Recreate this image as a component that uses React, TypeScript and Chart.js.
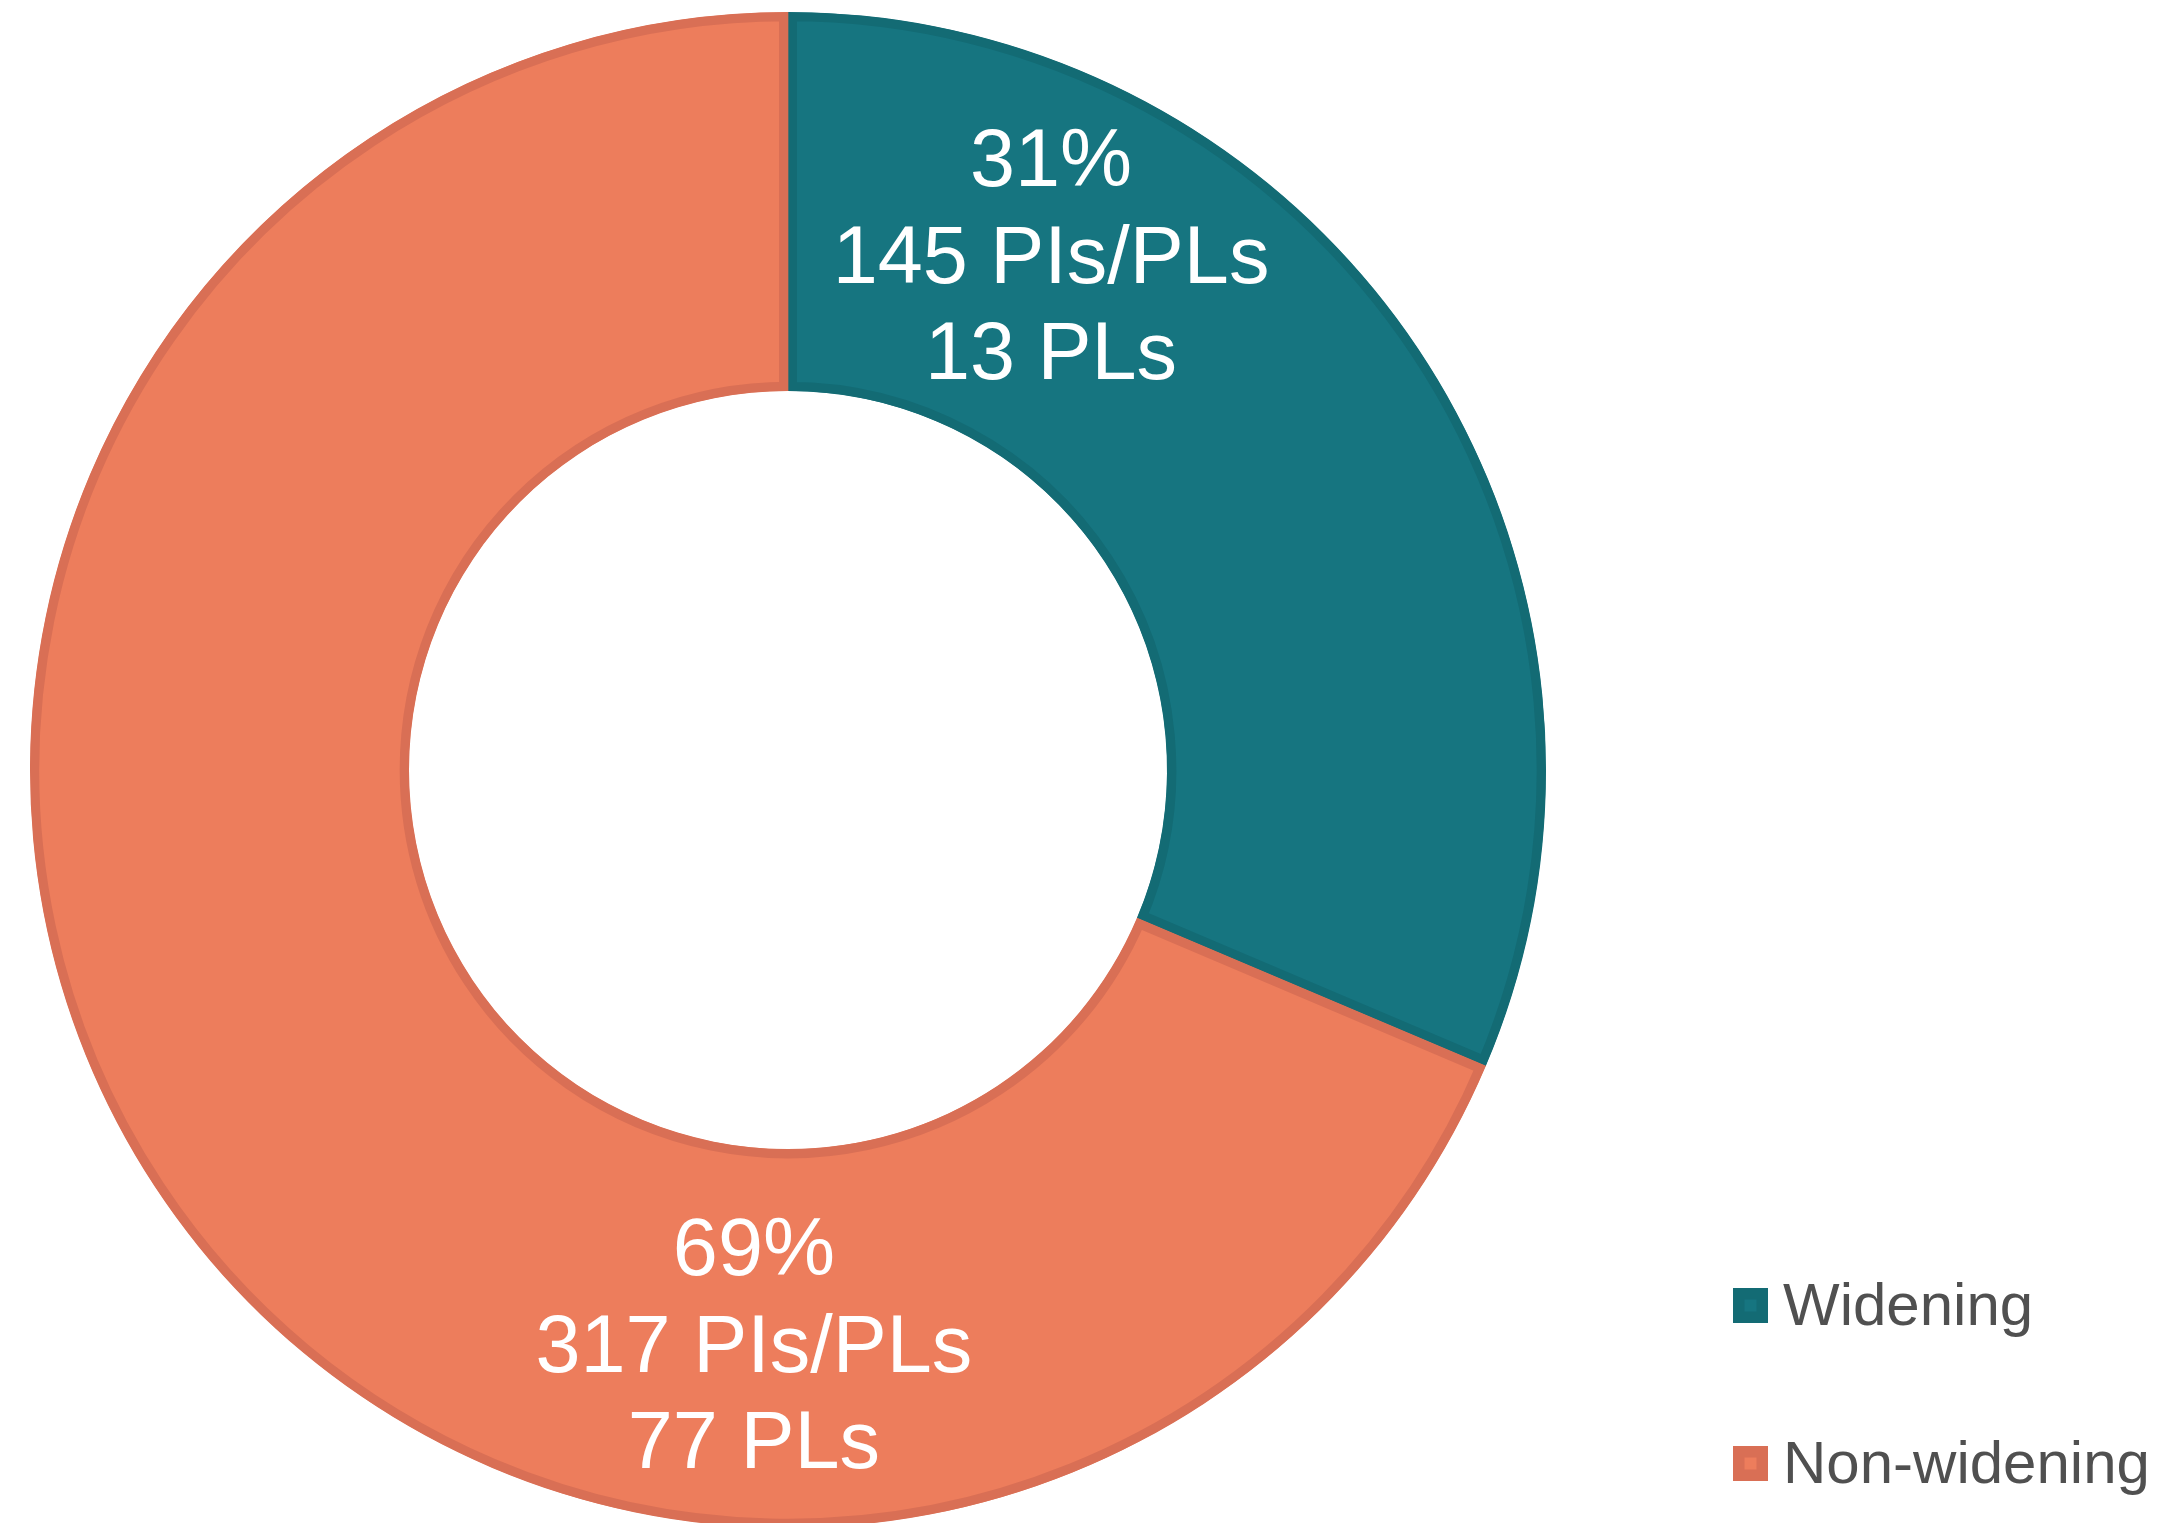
import React, { useEffect, useRef } from "react";
import { Chart, registerables } from "chart.js";

Chart.register(...registerables);

// ---- data ----
const categories = ["Widening", "Non-widening"];
const piPlCounts = [145, 317];
const plCounts = [13, 77];

// ---- styles ----
const fillColors = ["#167580", "#ED7D5C"];
const borderColors = ["#136B74", "#D96F55"];
// label anchor (middle line baseline) relative to centre, in units of outer radius
const labelAnchors: [number, number][] = [
  [0.347, -0.643],
  [-0.045, 0.794],
];

const W = 2171;
const H = 1535;
const CX = 788;
const CY = 770;
const R = 758;

const labelPlugin = {
  id: "sliceLabels",
  afterDatasetsDraw(chart: any) {
    const ctx = chart.ctx;
    const meta = chart.getDatasetMeta(0);
    const data: number[] = chart.data.datasets[0].data;
    const total = data.reduce((a, b) => a + b, 0);
    ctx.save();
    ctx.font = '81px "Liberation Sans", Arial, sans-serif';
    ctx.fillStyle = "#ffffff";
    ctx.textAlign = "center";
    ctx.textBaseline = "alphabetic";
    meta.data.forEach((arc: any, i: number) => {
      const { x, y, outerRadius } = arc.getProps(["x", "y", "outerRadius"], true);
      const pct = Math.round((data[i] / total) * 100);
      const lines = [`${pct}%`, `${data[i]} PIs/PLs`, `${plCounts[i]} PLs`];
      const cx = x + labelAnchors[i][0] * outerRadius;
      const cy = y + labelAnchors[i][1] * outerRadius;
      lines.forEach((l, k) => ctx.fillText(l, cx, cy + (k - 1) * 96.5));
    });
    ctx.restore();
  },
};

const legendPlugin = {
  id: "customLegend",
  afterDraw(chart: any) {
    const ctx = chart.ctx;
    const labels: string[] = chart.data.labels;
    const left = 1733;
    const top = 1288;
    const gap = 158;
    const box = 35;
    ctx.save();
    ctx.font = '60px "Liberation Sans", Arial, sans-serif';
    ctx.textAlign = "left";
    ctx.textBaseline = "alphabetic";
    labels.forEach((lab, i) => {
      const y = top + i * gap;
      ctx.fillStyle = borderColors[i];
      ctx.fillRect(left, y, box, box);
      ctx.fillStyle = fillColors[i];
      ctx.fillRect(left + 11.5, y + 11.5, 12, 12);
      ctx.fillStyle = "#505050";
      ctx.fillText(lab, left + 50, y + 37);
    });
    ctx.restore();
  },
};

export default function App() {
  const ref = useRef<HTMLCanvasElement>(null);
  useEffect(() => {
    if (!ref.current) return;
    const chart = new Chart(ref.current, {
      type: "doughnut",
      data: {
        labels: categories,
        datasets: [
          {
            data: piPlCounts,
            backgroundColor: fillColors,
            borderColor: borderColors,
            borderWidth: 9,
            borderAlign: "inner",
          } as any,
        ],
      },
      options: {
        responsive: false,
        devicePixelRatio: 1,
        animation: false,
        cutout: "50%",
        layout: {
          padding: { top: CY - R, bottom: H - (CY + R), left: CX - R, right: W - CX - R },
        },
        plugins: {
          legend: { display: false },
          tooltip: { enabled: false },
        },
      },
      plugins: [labelPlugin, legendPlugin],
    });
    return () => chart.destroy();
  }, []);
  return (
    <div style={{ position: "fixed", left: 0, top: 0, width: W, height: H, background: "#fff" }}>
      <canvas ref={ref} width={W} height={H} style={{ display: "block", width: W, height: H }} />
    </div>
  );
}
